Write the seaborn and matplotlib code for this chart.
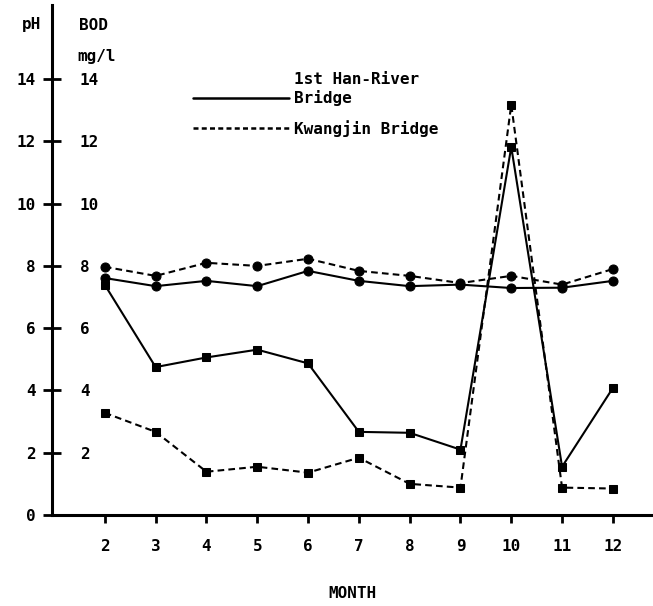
import matplotlib
matplotlib.use("Agg")
import matplotlib.pyplot as plt
import seaborn as sns
import numpy as np
import pandas as pd
from matplotlib.lines import Line2D
from matplotlib.legend_handler import HandlerLine2D

months = [2, 3, 4, 5, 6, 7, 8, 9, 10, 11, 12]
ph_han = [7.61, 7.35, 7.52, 7.35, 7.84, 7.52, 7.35, 7.40, 7.29, 7.30, 7.52]
ph_kwang = [7.97, 7.68, 8.10, 8.00, 8.23, 7.84, 7.68, 7.45, 7.68, 7.40, 7.90]
bod_han = [7.39, 4.75, 5.06, 5.31, 4.87, 2.67, 2.64, 2.10, 11.82, 1.55, 4.08]
bod_kwang = [3.28, 2.67, 1.39, 1.55, 1.36, 1.84, 1.00, 0.88, 13.18, 0.88, 0.85]

ph_ticks = [0, 2, 4, 6, 8, 10, 12, 14]
bod_ticks = [2, 4, 6, 8, 10, 12, 14]
legend_labels = ["1st Han-River\nBridge", "Kwangjin Bridge"]

sns.set_theme(style="white")
plt.rcParams["font.family"] = ["DejaVu Sans Mono", "DejaVu Sans"]
plt.rcParams["font.weight"] = "bold"
plt.rcParams["text.color"] = "black"
plt.rcParams["axes.labelcolor"] = "black"
plt.rcParams["xtick.color"] = "black"
plt.rcParams["ytick.color"] = "black"

W, H = 653, 606
fig = plt.figure(figsize=(W / 100, H / 100), dpi=100)
ax = fig.add_axes([52 / W, 1 - 515 / H, (W - 52) / W, (515 - 5) / H])

dash = (0, (3.2, 2.0))
lw = 1.5
series = [
    (ph_han, "-", "o", 6.5),
    (ph_kwang, dash, "o", 6.5),
    (bod_han, "-", "s", 6.0),
    (bod_kwang, dash, "s", 6.0),
]
for vals, ls, mk, ms in series:
    sns.lineplot(x=months, y=vals, ax=ax, color="black", linestyle=ls,
                 linewidth=lw, marker=mk, markersize=ms,
                 markeredgecolor="black", markerfacecolor="black",
                 legend=False, zorder=3)

ax.set_xlim(0.96, 12.79)
ax.set_ylim(0, 16.38)

for s in ["top", "right"]:
    ax.spines[s].set_visible(False)
for s in ["left", "bottom"]:
    ax.spines[s].set_linewidth(2.2)
    ax.spines[s].set_color("black")

ax.set_xticks(months)
ax.set_xticklabels([str(m) for m in months])
ax.set_yticks(ph_ticks)
ax.set_yticklabels([str(t) for t in ph_ticks])
ax.tick_params(axis="y", direction="inout", length=13, width=2.0,
               pad=5, labelsize=11.5, colors="black", left=True)
ax.tick_params(axis="x", direction="out", length=6, width=2.0,
               pad=11, labelsize=11.5, colors="black", bottom=True)
ax.set_xlabel("MONTH", fontsize=11.5, labelpad=23, color="black",
              fontweight="bold")
ax.set_ylabel("")

# BOD labels to the right of the shared axis line
ax2 = ax.twinx()
ax2.set_ylim(ax.get_ylim())
ax2.spines["right"].set_position(("axes", 0))
for s in ["top", "right", "left", "bottom"]:
    ax2.spines[s].set_visible(False)
ax2.set_yticks(bod_ticks)
ax2.set_yticklabels([str(t) for t in bod_ticks])
ax2.tick_params(axis="y", length=0, pad=20, labelsize=11.5, colors="black")
ax2.grid(False)
ax.grid(False)

fig.text(22 / W, 1 - 25 / H, "pH", fontsize=11.5, ha="left", va="center",
         fontweight="bold", color="black")
fig.text(79 / W, 1 - 25 / H, "BOD", fontsize=11.5, ha="left", va="center",
         fontweight="bold", color="black")
fig.text(77 / W, 1 - 57 / H, "mg/l", fontsize=11.5, ha="left", va="center",
         fontweight="bold", color="black")


class LowHandler(HandlerLine2D):
    def __init__(self, shift, **kw):
        super().__init__(**kw)
        self.shift = shift

    def create_artists(self, legend, orig_handle, xdescent, ydescent,
                       width, height, fontsize, trans):
        return super().create_artists(legend, orig_handle, xdescent,
                                      ydescent + 2 * self.shift, width,
                                      height, fontsize, trans)


h_han = Line2D([], [], color="black", linestyle="-", linewidth=1.8)
h_kw = Line2D([], [], color="black", linestyle=(0, (2.0, 1.3)), linewidth=1.8)
leg = ax.legend([h_han, h_kw], legend_labels, loc="upper left",
                bbox_to_anchor=(193 / W, 1 - 72 / H),
                bbox_transform=fig.transFigure, frameon=False,
                handlelength=6.0, handletextpad=0.35, borderpad=0,
                borderaxespad=0, labelspacing=0.9,
                handler_map={h_han: LowHandler(6.5)},
                prop={"weight": "bold", "size": 11.5},
                labelcolor="black")

fig.savefig("out.png", dpi=100, facecolor="white")
